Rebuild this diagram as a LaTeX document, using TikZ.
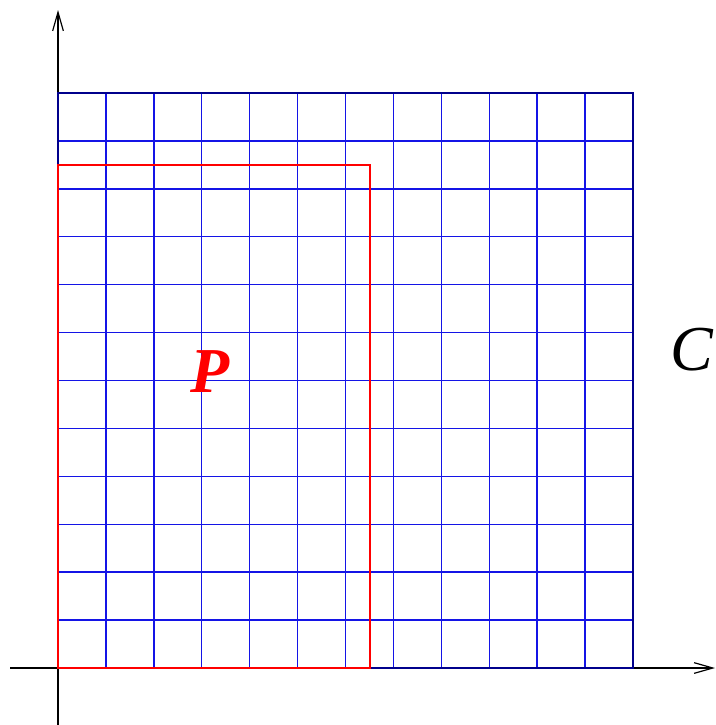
\documentclass[tikz,border=0pt]{standalone}
\usepackage{fontspec}
\setmainfont{Liberation Serif}
\usetikzlibrary{arrows.meta}
\definecolor{gridblue}{RGB}{20,20,230}
\definecolor{framenavy}{RGB}{0,0,140}
\definecolor{pred}{RGB}{255,0,0}
\tikzset{
  axis/.style={draw=black, line width=1pt, -{Straight Barb[length=14pt,width=8pt,line width=0.9pt]}},
  gridline/.style={draw=gridblue, line width=1.1pt},
  frame/.style={draw=framenavy, line width=1.7pt},
  prect/.style={draw=pred, line width=2pt},
  lbl/.style={inner sep=0pt, font=\fontsize{48}{50}\selectfont\itshape}
}
\begin{document}
\begin{tikzpicture}[x=0.75pt,y=-0.75pt]
\useasboundingbox (0,0) rectangle (715,725);
\coordinate (xs) at (10,668);
\coordinate (xe) at (715,668);
\coordinate (ys) at (58,725);
\coordinate (ye) at (58,10);
\draw[axis] (xs) -- (xe);
\draw[axis] (ys) -- (ye);
\foreach \i in {1,...,11}{
  \draw[gridline] ({58+\i*575/12},93) -- ({58+\i*575/12},668);
  \draw[gridline] (58,{93+\i*575/12}) -- (633,{93+\i*575/12});
}
\draw[frame] (58,93) rectangle (633,668);
\draw[prect] (58,165) rectangle (370,668);
\node[lbl, text=pred, font=\fontsize{48}{50}\selectfont\bfseries\itshape] (P) at (210,372) {P};
\node[lbl] (C) at (692,350) {C};
\end{tikzpicture}
\end{document}
